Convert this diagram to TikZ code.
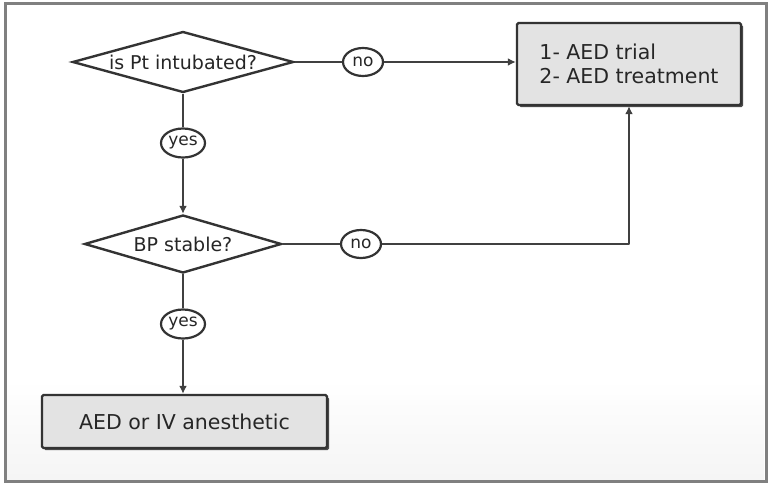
\documentclass[tikz,border=0pt]{standalone}
\usepackage{fontspec}
\setmainfont{DejaVu Sans}
\usetikzlibrary{shapes.geometric,arrows.meta,shadows}

\begin{document}
\begin{tikzpicture}[x=1pt,y=-1pt,
  decision/.style={draw=black!80, line width=2.4pt, fill=white, shape=diamond,
    inner sep=0pt, text=black!85, font=\fontsize{19}{22}\selectfont},
  actionbox/.style={draw=black!80, line width=2.4pt, fill=black!11, rectangle,
    rounded corners=1.5pt, inner sep=0pt, text=black!85,
    font=\fontsize{20.5}{24.5}\selectfont,
    drop shadow={shadow xshift=2pt, shadow yshift=-2pt, opacity=1, fill=black!70}},
  answer/.style={draw=black!80, line width=2.2pt, fill=white, ellipse,
    inner sep=0pt, minimum width=40pt, minimum height=28pt, text=black!85,
    font=\fontsize{17}{19}\selectfont},
  flow/.style={draw=black!75, line width=2.2pt, line join=round},
  arr/.style={flow, -{Latex[length=8pt,width=8pt]}},
]
\useasboundingbox (0,0) rectangle (769,485);
% page and window frame
\fill[white] (0,0) rectangle (769,485);
\shade[top color=white, bottom color=black!4] (6,380) rectangle (764,480);
\draw[black!50, line width=3pt] (5,3.5) rectangle (766,481);

% decisions
\node[decision, minimum width=221pt, minimum height=61pt, aspect=3.62] (d1) at (183,62) {is Pt intubated?};
\node[decision, minimum width=197pt, minimum height=58pt, aspect=3.4] (d2) at (183,244) {BP stable?};

% actions
\node[actionbox, minimum width=224pt, minimum height=82pt, align=left] (b1) at (629,64) {1- AED trial\\2- AED treatment};
\node[actionbox, minimum width=285pt, minimum height=53pt] (b2) at (184.5,421.5) {AED or IV anesthetic};

% answers
\node[answer] (n1) at (363,62) {no};
\node[answer] (n2) at (361,244) {no};
\node[answer, minimum width=44pt, minimum height=29pt] (y1) at (183,143) {yes};
\node[answer, minimum width=44pt, minimum height=29pt] (y2) at (183,324) {yes};

% connectors
\draw[flow] (d1.east) -- (n1.west);
\draw[arr] (n1.east) -- (n1.east -| b1.west);
\draw[flow] (d1.south) -- (y1.north);
\draw[arr] (y1.south) -- (d2.north);
\draw[flow] (d2.east) -- (n2.west);
\draw[arr] (n2.east) -| (b1.south);
\draw[flow] (d2.south) -- (y2.north);
\draw[arr] (y2.south) -- (y2.south |- b2.north);
\end{tikzpicture}
\end{document}
